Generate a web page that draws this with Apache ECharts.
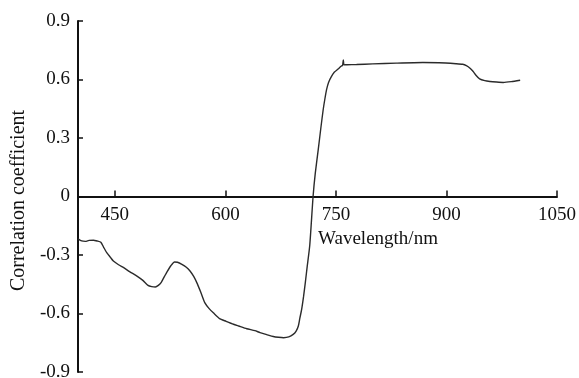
<!DOCTYPE html>
<html>
<head>
<meta charset="utf-8">
<script src="https://cdn.jsdelivr.net/npm/echarts@6/dist/echarts.min.js"></script>
<style>
  html, body { margin: 0; padding: 0; background: #fff; }
  #chart { width: 579px; height: 378px; }
</style>
</head>
<body>
<div id="chart"></div>
<script>
// wavelength (nm) and correlation coefficient
const wavelengths = [
  400, 405, 410, 415, 421, 426, 431, 435, 439, 444, 448, 455, 462, 470, 480, 488, 495, 500, 505, 509,
  513, 517, 521, 526, 531, 535, 541, 547, 552, 557, 562, 567, 572, 578, 584, 592, 601, 611, 618, 629,
  640, 647, 656, 665, 672, 679, 686, 692, 696, 699, 701, 703.5, 706, 708.5, 711, 714.5, 719, 722, 726, 729.5,
  732.7, 735, 737.3, 740, 744, 748, 753, 757, 759, 760, 761, 765, 778, 800, 832, 868, 890, 913, 922, 927,
  932, 936, 940, 945, 952, 959, 968, 977, 988, 1000
];
const correlation = [
  -0.217, -0.228, -0.230, -0.225, -0.224, -0.228, -0.234, -0.262, -0.288, -0.312, -0.331, -0.350, -0.365, -0.385, -0.408, -0.430, -0.456, -0.462, -0.464, -0.456,
  -0.440, -0.412, -0.385, -0.355, -0.336, -0.337, -0.348, -0.363, -0.382, -0.410, -0.448, -0.495, -0.544, -0.575, -0.598, -0.626, -0.640, -0.655, -0.664, -0.678,
  -0.688, -0.698, -0.708, -0.718, -0.722, -0.724, -0.720, -0.707, -0.690, -0.664, -0.625, -0.579, -0.515, -0.440, -0.360, -0.250, 0.000, 0.120, 0.240, 0.350,
  0.445, 0.500, 0.548, 0.585, 0.616, 0.638, 0.654, 0.668, 0.672, 0.700, 0.675, 0.676, 0.677, 0.680, 0.684, 0.687, 0.686, 0.681, 0.678, 0.671,
  0.658, 0.642, 0.622, 0.603, 0.594, 0.590, 0.587, 0.585, 0.589, 0.596
];
const xTicks = [450, 600, 750, 900, 1050];

const font = '"Liberation Serif", "Times New Roman", serif';
const chart = echarts.init(document.getElementById('chart'));

// grid spans y 21..372, so the zero line sits half way up: pull the x axis up to it
const gridTop = 21, gridBottom = 6;
const plotH = 378 - gridTop - gridBottom;

chart.setOption({
  animation: false,
  grid: { left: 78, right: 22, top: gridTop, bottom: gridBottom, containLabel: false, outerBoundsMode: 'none' },
  xAxis: {
    type: 'value',
    min: 400,
    max: 1050,
    position: 'bottom',
    offset: -plotH / 2,
    name: 'Wavelength/nm',
    nameLocation: 'middle',
    nameGap: 31,
    nameTextStyle: { fontFamily: font, fontSize: 19, color: '#111', padding: [0, 0, 0, 121] },
    axisLine: { onZero: false, lineStyle: { color: '#111', width: 2 } },
    axisTick: { inside: true, length: 6, customValues: xTicks, lineStyle: { color: '#111', width: 1.5 } },
    axisLabel: {
      customValues: xTicks,
      margin: 9,
      fontFamily: font,
      fontSize: 19,
      color: '#111',
      formatter: (v) => String(v)
    },
    splitLine: { show: false }
  },
  yAxis: {
    type: 'value',
    min: -0.9,
    max: 0.9,
    interval: 0.3,
    name: 'Correlation coefficient',
    nameLocation: 'middle',
    nameGap: 46,
    nameTextStyle: { fontFamily: font, fontSize: 20, color: '#111', padding: [0, 0, 0, -8] },
    axisLine: { show: true, onZero: false, lineStyle: { color: '#111', width: 2 } },
    axisTick: { inside: true, length: 5, lineStyle: { color: '#111', width: 1.5 } },
    axisLabel: {
      margin: 8,
      fontFamily: font,
      fontSize: 19,
      color: '#111',
      formatter: (v) => String(Math.round(v * 10) / 10)
    },
    splitLine: { show: false }
  },
  series: [
    {
      type: 'line',
      data: wavelengths.map((w, i) => [w, correlation[i]]),
      symbol: 'none',
      smooth: 0.2,
      lineStyle: { color: '#2b2b2b', width: 1.4 }
    }
  ]
});
</script>
</body>
</html>
